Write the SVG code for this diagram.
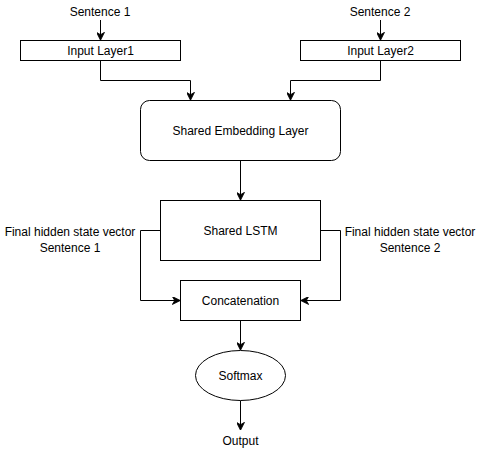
<svg xmlns="http://www.w3.org/2000/svg" width="481" height="451" viewBox="0 0 481 451">
<style>
.n{fill:#fff;stroke:#000;stroke-width:1}
.t{font-family:"Liberation Sans",Arial,sans-serif;font-size:12px;fill:#000;text-anchor:middle}
.c{fill:none;stroke:#000;stroke-width:1}
</style>
<defs>
<marker id="a" viewBox="0 0 10 10" refX="9" refY="5" markerWidth="8" markerHeight="8" markerUnits="userSpaceOnUse" orient="auto">
<path d="M0,0 L10,5 L0,10 L3,5 Z" fill="#000" stroke="#000" stroke-width="1"/>
</marker>
</defs>
<rect width="481" height="451" fill="#fff"/>
<g id="connectors">
<path class="c" d="M100.5,20 V39.5" marker-end="url(#a)"/>
<path class="c" d="M380.5,20 V39.5" marker-end="url(#a)"/>
<path class="c" d="M100.5,60.5 V80.5 H190.5 V99.5" marker-end="url(#a)"/>
<path class="c" d="M380.5,60.5 V80.5 H290.5 V99.5" marker-end="url(#a)"/>
<path class="c" d="M240.5,160.5 V199.5" marker-end="url(#a)"/>
<path class="c" d="M160.5,230.5 H140.5 V300.5 H179.5" marker-end="url(#a)"/>
<path class="c" d="M320.5,230.5 H340.5 V300.5 H301.5" marker-end="url(#a)"/>
<path class="c" d="M240.5,320.5 V349.5" marker-end="url(#a)"/>
<path class="c" d="M240.5,400.5 V429.5" marker-end="url(#a)"/>
</g>
<g id="sentence1"><text class="t" x="100" y="16">Sentence 1</text></g>
<g id="sentence2"><text class="t" x="380" y="16">Sentence 2</text></g>
<g id="input1"><rect class="n" x="20.5" y="40.5" width="160" height="20"/><text class="t" x="100.5" y="54.5">Input Layer1</text></g>
<g id="input2"><rect class="n" x="300.5" y="40.5" width="160" height="20"/><text class="t" x="380.5" y="54.5">Input Layer2</text></g>
<g id="embedding"><rect class="n" x="140.5" y="100.5" width="200" height="60" rx="9" ry="9"/><text class="t" x="240.5" y="134.5">Shared Embedding Layer</text></g>
<g id="lstm"><rect class="n" x="160.5" y="200.5" width="160" height="60"/><text class="t" x="240.5" y="235">Shared LSTM</text></g>
<g id="label1"><text class="t" x="70" y="236">Final hidden state vector</text><text class="t" x="70" y="252">Sentence 1</text></g>
<g id="label2"><text class="t" x="410" y="236">Final hidden state vector</text><text class="t" x="410" y="252">Sentence 2</text></g>
<g id="concat"><rect class="n" x="180.5" y="280.5" width="120" height="40"/><text class="t" x="240.5" y="304.5">Concatenation</text></g>
<g id="softmax"><ellipse class="n" cx="240.5" cy="375.5" rx="45" ry="25"/><text class="t" x="240.5" y="379.5">Softmax</text></g>
<g id="output"><text class="t" x="240.5" y="444.5">Output</text></g>
</svg>
